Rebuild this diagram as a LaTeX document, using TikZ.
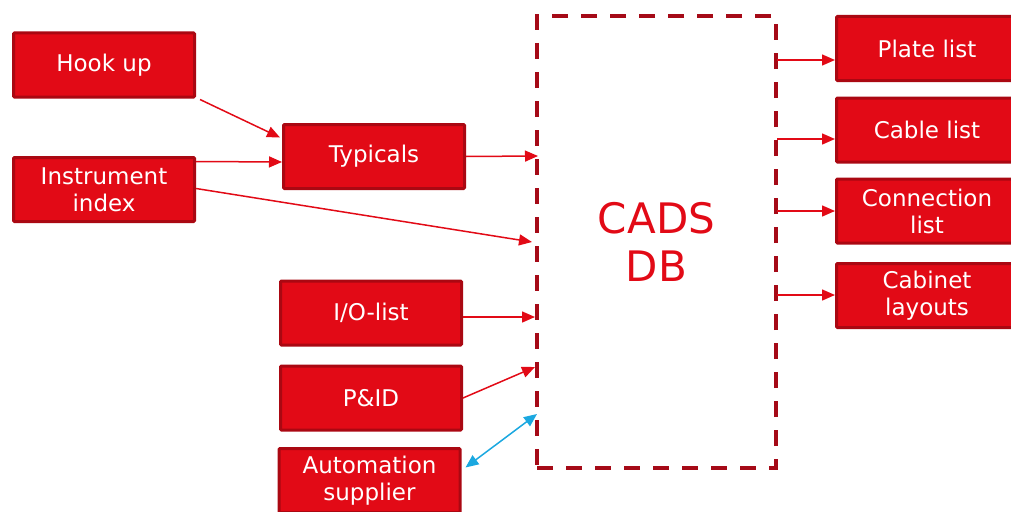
\documentclass[tikz,border=0pt]{standalone}
\usepackage{fontspec}
\newfontfamily\boxfont{DejaVu Sans}
\usetikzlibrary{arrows.meta}

\definecolor{boxred}{RGB}{226,10,22}
\definecolor{boxedge}{RGB}{170,8,18}
\definecolor{dbedge}{RGB}{165,10,23}
\definecolor{linkred}{RGB}{226,10,22}
\definecolor{linkblue}{RGB}{27,168,224}

\begin{document}
\begin{tikzpicture}[x=1pt, y=-1pt,
		box/.style={draw=boxedge, fill=boxred, line width=3pt, rounded corners=1pt,
			minimum width=181pt, minimum height=64pt, inner sep=0pt,
			text=white, align=center, font=\boxfont\fontsize{23}{27}\selectfont},
		feed/.style={draw=linkred, line width=1.5pt, -{Triangle[length=13pt,width=11pt]}},
		swap/.style={draw=linkblue, line width=1.5pt,
			{Triangle[length=13pt,width=11pt]}-{Triangle[length=13pt,width=11pt]}}]
		\clip (0,0) rectangle (1011,511);

		% the database frame
		\node[draw=dbedge, line width=4pt, dash pattern=on 16pt off 13pt,
			minimum width=239pt, minimum height=452pt, inner sep=0pt,
			text=boxred, align=center, font=\boxfont\fontsize{42}{48}\selectfont] (db) at (656.5,242) {CADS\\DB};

		% sources
		\node[box] (hook) at (104,65) {Hook up};
		\node[box] (instr) at (104,189.5) {Instrument\\index};
		\node[box] (typ) at (374,156.5) {Typicals};
		\node[box] (io) at (371,313) {I/O-list};
		\node[box] (pid) at (371,398) {P\&ID};
		\node[box] (auto) at (369.5,480.5) {Automation\\supplier};

		% outputs
		\node[box] (plate) at (927,48.5) {Plate list};
		\node[box] (cable) at (927,130) {Cable list};
		\node[box] (conn) at (927,211) {Connection\\list};
		\node[box] (cab) at (927,295.5) {Cabinet\\layouts};

		% points on the frame
		\coordinate (dbin1) at (538,156);
		\coordinate (dbin2) at (535,317);
		\coordinate (dbin3) at (535,367);
		\coordinate (dbin4) at (537,414);
		\coordinate (dbout1) at (777,60);
		\coordinate (dbout2) at (777,139);
		\coordinate (dbout3) at (777,211);
		\coordinate (dbout4) at (777,295);

		\draw[feed] ([shift={(4pt,-1pt)}]hook.south east) -- ([shift={(-2pt,19pt)}]typ.west);
		\draw[feed] ([yshift=28pt]instr.east) -- (typ.west |- {(0,162)});
		\draw[feed] ([yshift=1pt]instr.east) -- ([xshift=-3pt]db.west);
		\draw[feed] (typ.east) -- (dbin1);
		\draw[feed] ([yshift=-4pt]io.east) -- (dbin2);
		\draw[feed] (pid.east) -- (dbin3);
		\draw[swap] ([shift={(4pt,13pt)}]auto.east) -- (dbin4);

		\draw[feed] (dbout1) -- (dbout1 -| plate.west);
		\draw[feed] (dbout2) -- (dbout2 -| cable.west);
		\draw[feed] (dbout3) -- (dbout3 -| conn.west);
		\draw[feed] (dbout4) -- (dbout4 -| cab.west);
	\end{tikzpicture}
\end{document}
